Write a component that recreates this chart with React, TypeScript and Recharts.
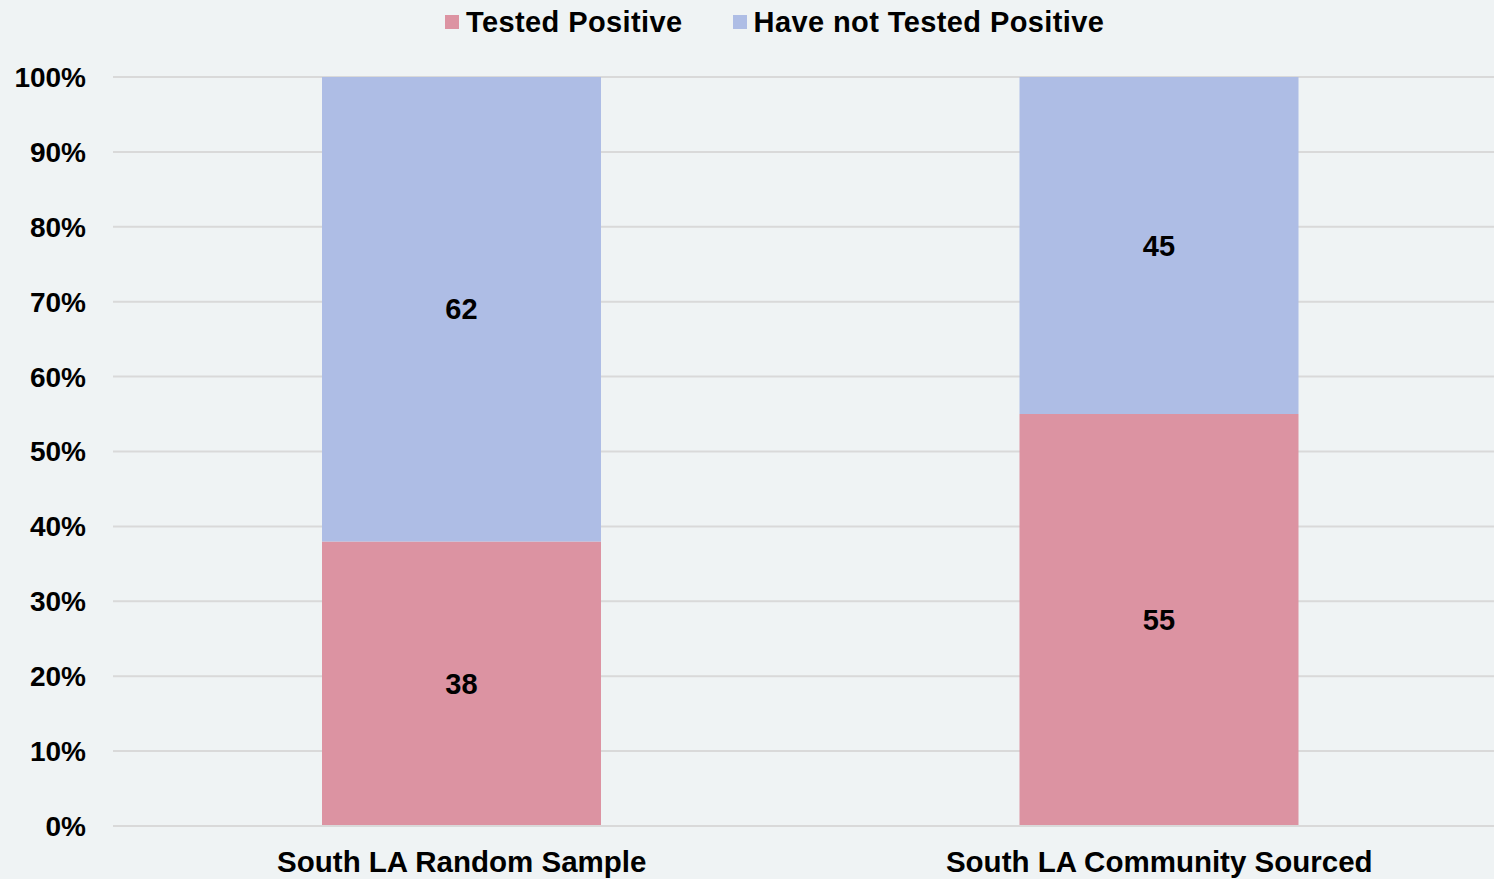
import React from "react";
import {
  Bar,
  BarChart,
  CartesianGrid,
  LabelList,
  Legend,
  XAxis,
  YAxis,
} from "recharts";

const groups = ["South LA Random Sample", "South LA Community Sourced"];
const testedPositive = [38, 55];
const notTestedPositive = [62, 45];
const yTicks = [0, 10, 20, 30, 40, 50, 60, 70, 80, 90, 100];

const PINK = "#DC93A2";
const BLUE = "#AEBDE5";
const BG = "#EFF3F4";
const FONT = "Arial, 'Liberation Sans', sans-serif";

const data = groups.map((name, i) => ({
  name,
  pos: testedPositive[i],
  neg: notTestedPositive[i],
}));

const legendItems = [
  { label: "Tested Positive", color: PINK },
  { label: "Have not Tested Positive", color: BLUE },
];

const TopLegend = () => (
  <div
    style={{
      display: "flex",
      alignItems: "center",
      height: 40,
      fontFamily: FONT,
      fontWeight: "bold",
      fontSize: 29,
      letterSpacing: 0.4,
      color: "#000",
    }}
  >
    {legendItems.map((item, i) => (
      <div
        key={item.label}
        style={{ display: "flex", alignItems: "center", marginRight: i === 0 ? 50 : 0 }}
      >
        <span
          style={{
            display: "inline-block",
            width: 14,
            height: 14,
            background: item.color,
            marginRight: 7,
          }}
        />
        <span>{item.label}</span>
      </div>
    ))}
  </div>
);

export default function App() {
  return (
    <div
      style={{
        position: "fixed",
        left: 0,
        top: 0,
        width: 1494,
        height: 879,
        overflow: "hidden",
        background: BG,
      }}
    >
      <BarChart
        width={1512}
        height={879}
        data={data}
        margin={{ top: 37, right: 4, bottom: 0, left: 0 }}
      >
        <CartesianGrid vertical={false} stroke="#D9D9D9" strokeWidth={2} />
        <Legend
          verticalAlign="top"
          align="left"
          content={<TopLegend />}
          wrapperStyle={{ left: 445, top: 2, width: "auto" }}
        />
        <XAxis
          dataKey="name"
          axisLine={{ stroke: "#D9D9D9", strokeWidth: 2 }}
          tickLine={false}
          tickSize={0}
          tickMargin={25}
          height={53}
          tick={{ fill: "#000", fontSize: 29.5, fontWeight: "bold", fontFamily: FONT }}
        />
        <YAxis
          domain={[0, 100]}
          ticks={yTicks}
          tickFormatter={(v) => `${v}%`}
          axisLine={false}
          tickLine={false}
          tickSize={0}
          tickMargin={27}
          width={113}
          interval={0}
          tick={{ fill: "#000", fontSize: 28, fontWeight: "bold", fontFamily: FONT }}
        />
        <Bar dataKey="pos" stackId="a" fill={PINK} barSize={279} isAnimationActive={false}>
          <LabelList
            dataKey="pos"
            position="center"
            fill="#000"
            fontSize={29}
            fontWeight="bold"
            fontFamily={FONT}
          />
        </Bar>
        <Bar dataKey="neg" stackId="a" fill={BLUE} barSize={279} isAnimationActive={false}>
          <LabelList
            dataKey="neg"
            position="center"
            fill="#000"
            fontSize={29}
            fontWeight="bold"
            fontFamily={FONT}
          />
        </Bar>
      </BarChart>
    </div>
  );
}
